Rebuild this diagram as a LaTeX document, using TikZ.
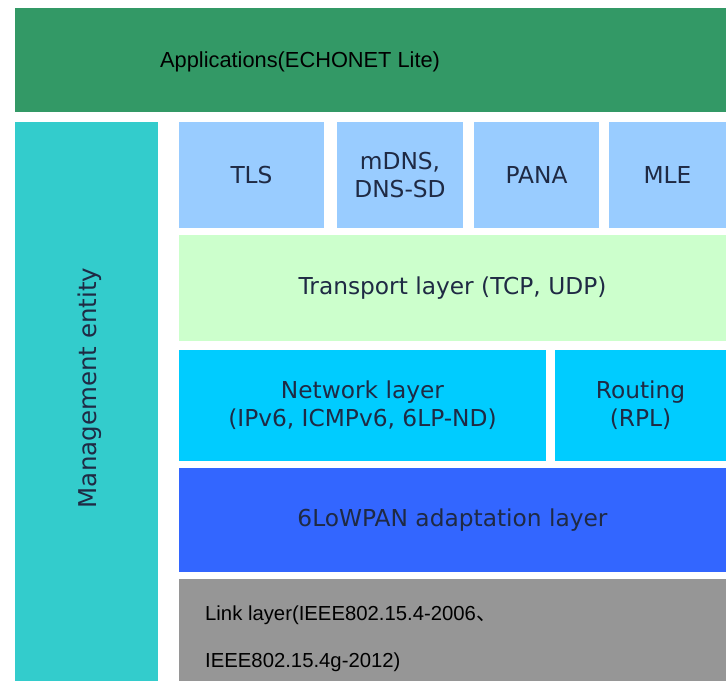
\documentclass[tikz,border=0pt]{standalone}
\usepackage{fontspec}
\setmainfont{Liberation Sans}
\newfontfamily\winfont{DejaVu Sans}
\newfontfamily\cjk{Noto Sans CJK JP}
\usetikzlibrary{positioning}
\definecolor{appgreen}{HTML}{339966}
\definecolor{mgmtteal}{HTML}{33CCCC}
\definecolor{protoblue}{HTML}{99CCFF}
\definecolor{transgreen}{HTML}{CCFFCC}
\definecolor{netcyan}{HTML}{00CCFF}
\definecolor{lowpanblue}{HTML}{3366FF}
\definecolor{linkgray}{HTML}{969696}
\definecolor{labelnavy}{HTML}{1F2A44}

\begin{document}
\begin{tikzpicture}[x=1pt,y=-1pt,
  layer/.style={inner sep=0pt, outer sep=0pt, anchor=north west, align=center,
    text=labelnavy, font=\winfont\fontsize{23.3}{28}\selectfont},
  plain/.style={inner sep=0pt, text=black, align=left}]
  \useasboundingbox[fill=white] (0,0) rectangle (726,681);
  % application band on top
  \node[layer, fill=appgreen, minimum width=711pt, minimum height=104pt] (apps) at (15,8) {};
  \node[plain, anchor=west, font=\fontsize{21.8}{25}\selectfont] (appstext) at (160,62) {Applications(ECHONET Lite)};
  % management entity column
  \node[layer, fill=mgmtteal, minimum width=143pt, minimum height=559pt] (mgmt) at (15,122) {};
  \node[rotate=90, inner sep=0pt, text=labelnavy, font=\winfont\fontsize{24.5}{28}\selectfont] (mgmttext) at (90,388) {Management entity};
  % upper protocols
  \foreach \nm/\x/\w/\lab in {tls/179/145/TLS, mdns/337/126/{mDNS,\\DNS-SD}, pana/474/125/PANA, mle/609/117/MLE}
    \node[layer, fill=protoblue, minimum width=\w pt, minimum height=106pt] (\nm) at (\x,122) {\lab};
  % stack
  \node[layer, fill=transgreen, minimum width=547pt, minimum height=106pt] (transport) at (179,235) {Transport layer (TCP, UDP)};
  \node[layer, fill=netcyan, minimum width=367pt, minimum height=111pt] (network) at (179,350) {Network layer\\(IPv6, ICMPv6, 6LP-ND)};
  \node[layer, fill=netcyan, minimum width=171pt, minimum height=111pt] (routing) at (555,350) {Routing\\(RPL)};
  \node[layer, fill=lowpanblue, minimum width=547pt, minimum height=104pt] (lowpan) at (179,468) {6LoWPAN adaptation layer};
  \node[layer, fill=linkgray, minimum width=547pt, minimum height=102pt] (link) at (179,579) {};
  \node[plain, anchor=west, font=\fontsize{20.3}{47}\selectfont] (linktext) at (205,639) {Link layer(IEEE802.15.4-2006{\cjk 、}\\IEEE802.15.4g-2012)};
\end{tikzpicture}
\end{document}
